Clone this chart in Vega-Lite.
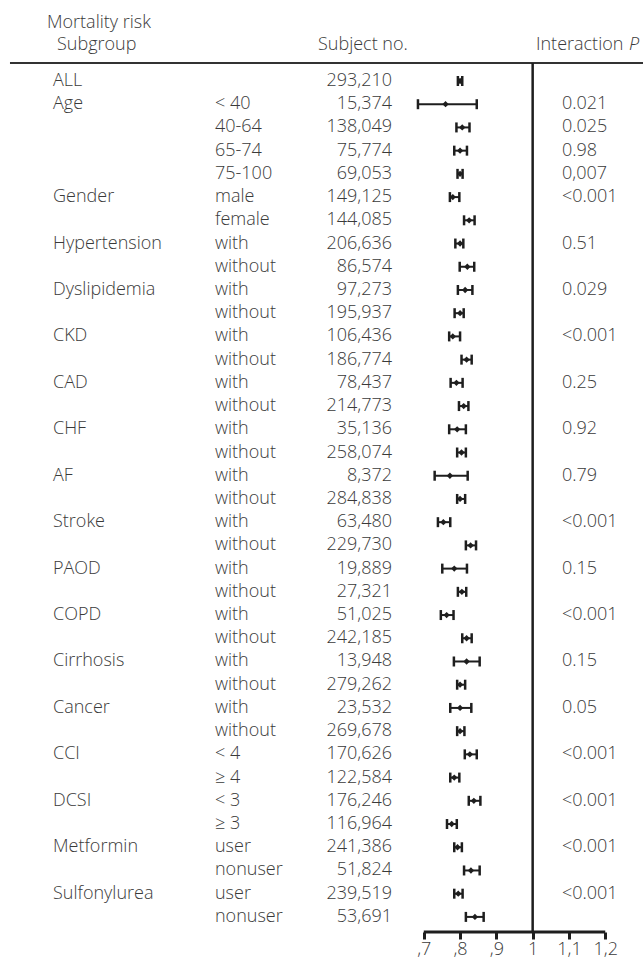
{
  "$schema": "https://vega.github.io/schema/vega-lite/v6.json",
  "width": 643,
  "height": 932,
  "autosize": {"type": "none"},
  "padding": {"left": 0, "top": 0, "right": 0, "bottom": 29},
  "background": "white",
  "config": {
    "view": {"stroke": null},
    "text": {"font": "Open Sans", "fontSize": 18, "fontWeight": 300, "fill": "#3a3a3a", "baseline": "middle", "align": "left"}
  },
  "data": {
    "values": [
      {"group": "ALL", "sub": "", "n": "293,210", "hr": 0.800, "lo": 0.794, "hi": 0.806, "p": ""},
      {"group": "Age", "sub": "< 40", "n": "15,374", "hr": 0.760, "lo": 0.684, "hi": 0.846, "p": "0.021"},
      {"group": "Age", "sub": "40-64", "n": "138,049", "hr": 0.806, "lo": 0.790, "hi": 0.826, "p": "0.025"},
      {"group": "Age", "sub": "65-74", "n": "75,774", "hr": 0.800, "lo": 0.784, "hi": 0.819, "p": "0.98"},
      {"group": "Age", "sub": "75-100", "n": "69,053", "hr": 0.800, "lo": 0.793, "hi": 0.807, "p": "0,007"},
      {"group": "Gender", "sub": "male", "n": "149,125", "hr": 0.780, "lo": 0.772, "hi": 0.798, "p": "<0.001"},
      {"group": "Gender", "sub": "female", "n": "144,085", "hr": 0.825, "lo": 0.811, "hi": 0.840, "p": ""},
      {"group": "Hypertension", "sub": "with", "n": "206,636", "hr": 0.800, "lo": 0.787, "hi": 0.809, "p": "0.51"},
      {"group": "Hypertension", "sub": "without", "n": "86,574", "hr": 0.820, "lo": 0.799, "hi": 0.839, "p": ""},
      {"group": "Dyslipidemia", "sub": "with", "n": "97,273", "hr": 0.814, "lo": 0.794, "hi": 0.834, "p": "0.029"},
      {"group": "Dyslipidemia", "sub": "without", "n": "195,937", "hr": 0.800, "lo": 0.785, "hi": 0.810, "p": ""},
      {"group": "CKD", "sub": "with", "n": "106,436", "hr": 0.780, "lo": 0.770, "hi": 0.800, "p": "<0.001"},
      {"group": "CKD", "sub": "without", "n": "186,774", "hr": 0.818, "lo": 0.804, "hi": 0.832, "p": ""},
      {"group": "CAD", "sub": "with", "n": "78,437", "hr": 0.790, "lo": 0.774, "hi": 0.807, "p": "0.25"},
      {"group": "CAD", "sub": "without", "n": "214,773", "hr": 0.810, "lo": 0.797, "hi": 0.823, "p": ""},
      {"group": "CHF", "sub": "with", "n": "35,136", "hr": 0.792, "lo": 0.770, "hi": 0.816, "p": "0.92"},
      {"group": "CHF", "sub": "without", "n": "258,074", "hr": 0.804, "lo": 0.792, "hi": 0.816, "p": ""},
      {"group": "AF", "sub": "with", "n": "8,372", "hr": 0.772, "lo": 0.730, "hi": 0.821, "p": "0.79"},
      {"group": "AF", "sub": "without", "n": "284,838", "hr": 0.800, "lo": 0.792, "hi": 0.814, "p": ""},
      {"group": "Stroke", "sub": "with", "n": "63,480", "hr": 0.754, "lo": 0.739, "hi": 0.773, "p": "<0.001"},
      {"group": "Stroke", "sub": "without", "n": "229,730", "hr": 0.829, "lo": 0.816, "hi": 0.844, "p": ""},
      {"group": "PAOD", "sub": "with", "n": "19,889", "hr": 0.784, "lo": 0.751, "hi": 0.819, "p": "0.15"},
      {"group": "PAOD", "sub": "without", "n": "27,321", "hr": 0.805, "lo": 0.794, "hi": 0.817, "p": ""},
      {"group": "COPD", "sub": "with", "n": "51,025", "hr": 0.763, "lo": 0.747, "hi": 0.782, "p": "<0.001"},
      {"group": "COPD", "sub": "without", "n": "242,185", "hr": 0.818, "lo": 0.806, "hi": 0.832, "p": ""},
      {"group": "Cirrhosis", "sub": "with", "n": "13,948", "hr": 0.818, "lo": 0.783, "hi": 0.854, "p": "0.15"},
      {"group": "Cirrhosis", "sub": "without", "n": "279,262", "hr": 0.800, "lo": 0.792, "hi": 0.814, "p": ""},
      {"group": "Cancer", "sub": "with", "n": "23,532", "hr": 0.800, "lo": 0.773, "hi": 0.831, "p": "0.05"},
      {"group": "Cancer", "sub": "without", "n": "269,678", "hr": 0.800, "lo": 0.792, "hi": 0.812, "p": ""},
      {"group": "CCI", "sub": "< 4", "n": "170,626", "hr": 0.827, "lo": 0.813, "hi": 0.846, "p": "<0.001"},
      {"group": "CCI", "sub": "≥ 4", "n": "122,584", "hr": 0.784, "lo": 0.773, "hi": 0.798, "p": ""},
      {"group": "DCSI", "sub": "< 3", "n": "176,246", "hr": 0.838, "lo": 0.824, "hi": 0.856, "p": "<0.001"},
      {"group": "DCSI", "sub": "≥ 3", "n": "116,964", "hr": 0.777, "lo": 0.764, "hi": 0.791, "p": ""},
      {"group": "Metformin", "sub": "user", "n": "241,386", "hr": 0.793, "lo": 0.784, "hi": 0.805, "p": "<0.001"},
      {"group": "Metformin", "sub": "nonuser", "n": "51,824", "hr": 0.830, "lo": 0.811, "hi": 0.854, "p": ""},
      {"group": "Sulfonylurea", "sub": "user", "n": "239,519", "hr": 0.795, "lo": 0.784, "hi": 0.807, "p": "<0.001"},
      {"group": "Sulfonylurea", "sub": "nonuser", "n": "53,691", "hr": 0.841, "lo": 0.816, "hi": 0.865, "p": ""}
    ]
  },
  "transform": [
    {"window": [{"op": "row_number", "as": "row"}]},
    {"window": [{"op": "row_number", "as": "gi"}], "groupby": ["group"]}
  ],
  "encoding": {
    "y": {"field": "row", "type": "quantitative", "scale": {"domain": [-2.488, 37.65], "reverse": true, "nice": false, "zero": false}, "axis": null}
  },
  "layer": [
    {
      "mark": {"type": "rule", "stroke": "#1e1e1e", "strokeWidth": 2},
      "encoding": {
        "x": {"field": "lo", "type": "quantitative", "scale": {"domain": [-0.4675, 1.304], "nice": false, "zero": false},
          "axis": {"values": [0.7, 0.8, 0.9, 1, 1.1, 1.2], "domain": false, "grid": false, "ticks": true, "tickSize": 7, "tickWidth": 3, "tickColor": "#1e1e1e",
            "labelExpr": "replace(replace(format(datum.value, '.1~f'), '0.', '.'), '.', ',')",
            "labelFont": "Open Sans", "labelFontSize": 18, "labelFontWeight": 300, "labelColor": "#3a3a3a", "labelPadding": 1, "title": null, "orient": "bottom"}},
        "x2": {"field": "hi"}
      }
    },
    {
      "mark": {"type": "tick", "orient": "vertical", "size": 10, "thickness": 2.5, "color": "#1e1e1e", "opacity": 1},
      "encoding": {"x": {"field": "lo", "type": "quantitative"}}
    },
    {
      "mark": {"type": "tick", "orient": "vertical", "size": 10, "thickness": 2.5, "color": "#1e1e1e", "opacity": 1},
      "encoding": {"x": {"field": "hi", "type": "quantitative"}}
    },
    {
      "mark": {"type": "point", "shape": "diamond", "filled": true, "size": 40, "color": "#1e1e1e", "opacity": 1},
      "encoding": {"x": {"field": "hr", "type": "quantitative"}}
    },
    {
      "transform": [{"filter": "datum.gi == 1"}],
      "mark": {"type": "text"},
      "encoding": {"x": {"datum": -0.3215, "type": "quantitative"}, "text": {"field": "group"}}
    },
    {
      "mark": {"type": "text"},
      "encoding": {"x": {"datum": 0.1248, "type": "quantitative"}, "text": {"field": "sub"}}
    },
    {
      "mark": {"type": "text", "align": "right"},
      "encoding": {"x": {"datum": 0.6125, "type": "quantitative"}, "text": {"field": "n"}}
    },
    {
      "mark": {"type": "text"},
      "encoding": {"x": {"datum": 1.0808, "type": "quantitative"}, "text": {"field": "p"}}
    },
    {
      "transform": [{"filter": "datum.row == 1"}],
      "mark": {"type": "rule", "stroke": "#333333", "strokeWidth": 2},
      "encoding": {
        "x": {"datum": -0.44, "type": "quantitative"},
        "x2": {"datum": 1.304},
        "y": {"datum": 0.225, "type": "quantitative"}
      }
    },
    {
      "transform": [{"filter": "datum.row == 1"}],
      "mark": {"type": "rule", "stroke": "#1e1e1e", "strokeWidth": 2.5},
      "encoding": {
        "x": {"datum": 1, "type": "quantitative"},
        "y": {"datum": 0.225, "type": "quantitative"},
        "y2": {"datum": 37.65}
      }
    },
    {
      "transform": [{"filter": "datum.row == 1"}],
      "mark": {"type": "rule", "stroke": "#1e1e1e", "strokeWidth": 3},
      "encoding": {
        "x": {"datum": 0.7, "type": "quantitative"},
        "x2": {"datum": 1.2},
        "y": {"datum": 37.65, "type": "quantitative"}
      }
    },
    {
      "transform": [{"filter": "datum.row == 1"}],
      "mark": {"type": "text", "text": "Mortality risk"},
      "encoding": {
        "x": {"datum": -0.338, "type": "quantitative"},
        "y": {"datum": -1.519, "type": "quantitative"}
      }
    },
    {
      "transform": [{"filter": "datum.row == 1"}],
      "mark": {"type": "text", "text": "Subgroup"},
      "encoding": {
        "x": {"datum": -0.3105, "type": "quantitative"},
        "y": {"datum": -0.55, "type": "quantitative"}
      }
    },
    {
      "transform": [{"filter": "datum.row == 1"}],
      "mark": {"type": "text", "text": "Subject no."},
      "encoding": {
        "x": {"datum": 0.4086, "type": "quantitative"},
        "y": {"datum": -0.55, "type": "quantitative"}
      }
    },
    {
      "transform": [{"filter": "datum.row == 1"}],
      "mark": {"type": "text", "text": "Interaction"},
      "encoding": {
        "x": {"datum": 1.0091, "type": "quantitative"},
        "y": {"datum": -0.55, "type": "quantitative"}
      }
    },
    {
      "transform": [{"filter": "datum.row == 1"}],
      "mark": {"type": "text", "text": "P", "fontStyle": "italic"},
      "encoding": {
        "x": {"datum": 1.2654, "type": "quantitative"},
        "y": {"datum": -0.55, "type": "quantitative"}
      }
    }
  ]
}
